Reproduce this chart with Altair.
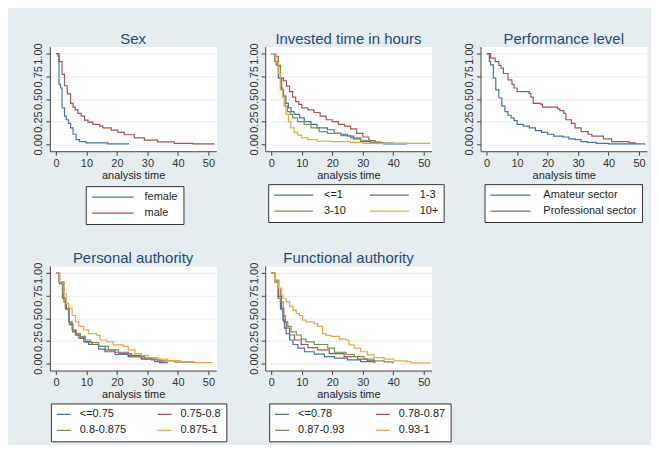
import altair as alt
import pandas as pd

# ---------------- data (Kaplan-Meier survival estimates) ----------------
SEX_GROUPS = ["female", "male"]
SEX_FEMALE_T = [0, 1, 1.5, 2, 2.8, 3.4, 4.1, 4.8, 5.6, 6.6, 7.7, 9.9, 17, 24]
SEX_FEMALE_S = [1, 0.66, 0.62, 0.40, 0.31, 0.27, 0.23, 0.18, 0.11, 0.05, 0.03, 0.015, 0.005, 0.005]
SEX_MALE_T = [0, 0.7, 1, 2, 2.8, 3.7, 4.8, 5.6, 6.3, 7.2, 8.3, 9.4, 10.5, 12.1, 14.3, 15.4, 18.1,
              20.3, 22.4, 25.7, 29, 33.3, 38.8, 45, 52]
SEX_MALE_S = [1, 0.97, 0.91, 0.77, 0.645, 0.556, 0.45, 0.41, 0.38, 0.34, 0.31, 0.265, 0.245, 0.22,
              0.20, 0.18, 0.155, 0.13, 0.105, 0.07, 0.045, 0.026, 0.01, 0.004, 0.004]

INV_GROUPS = ["<=1", "1-3", "3-10", "10+"]
INV_LE1_T = [0, 1.2, 1.6, 2.3, 3.4, 4.0, 4.8, 5.6, 6.5, 7.5, 9.3, 10.8, 13, 15, 18.4, 20.6, 22.8,
             25, 27, 29.3, 32.6, 36.9, 44.5]
INV_LE1_S = [1, 0.91, 0.875, 0.73, 0.60, 0.53, 0.45, 0.40, 0.36, 0.33, 0.29, 0.25, 0.22, 0.18, 0.16,
             0.12, 0.11, 0.09, 0.06, 0.03, 0.015, 0.005, 0.005]
INV_1_3_T = [0, 1.2, 2.3, 3.0, 4.0, 5.0, 6.0, 7.0, 8.0, 9.0, 10.0, 12.0, 14.0, 16.0, 18.0, 20.0,
             22.0, 24.0, 26.0, 28.0, 30.0, 32.0, 34.0, 36.0, 40.0]
INV_1_3_S = [1, 0.97, 0.86, 0.73, 0.70, 0.64, 0.58, 0.52, 0.47, 0.44, 0.40, 0.38, 0.35, 0.31, 0.27,
             0.25, 0.22, 0.20, 0.17, 0.12, 0.08, 0.04, 0.025, 0.012, 0.005]
INV_3_10_T = [0, 1.2, 2.1, 3.0, 3.7, 4.5, 5.3, 6.2, 7.0, 8.6, 10.8, 13, 15.7, 18.4, 22.8, 26, 29.3,
              32.6, 35.8, 44.5]
INV_3_10_S = [1, 0.91, 0.87, 0.62, 0.53, 0.42, 0.36, 0.33, 0.29, 0.25, 0.22, 0.18, 0.14, 0.12, 0.095,
              0.07, 0.044, 0.022, 0.01, 0.005]
INV_10P_T = [0, 1.5, 2.3, 3.0, 3.7, 4.2, 4.8, 5.6, 6.4, 7.5, 8.6, 10, 12, 15, 19.5, 26, 30, 52]
INV_10P_S = [1, 0.90, 0.78, 0.60, 0.52, 0.42, 0.33, 0.25, 0.18, 0.13, 0.10, 0.07, 0.05, 0.035, 0.03,
             0.02, 0.01, 0.005]

PERF_GROUPS = ["Amateur sector", "Professional sector"]
PERF_AM_T = [0, 0.9, 1.3, 2.2, 3.0, 4.0, 5.0, 6.0, 7.0, 8.0, 9.0, 10.0, 12.0, 14.0, 16.0, 18.0, 20.0,
             22.0, 25.0, 27.0, 29.0, 31.0, 33.0, 36.0, 40.0, 52.0]
PERF_AM_S = [1, 0.91, 0.875, 0.73, 0.60, 0.51, 0.42, 0.36, 0.32, 0.29, 0.26, 0.22, 0.20, 0.18, 0.15,
             0.13, 0.11, 0.09, 0.08, 0.06, 0.05, 0.03, 0.02, 0.01, 0.005, 0.005]
PERF_PRO_T = [0, 1.3, 2.8, 4.0, 4.7, 5.5, 7.0, 8.3, 9.0, 10.0, 13.9, 14.5, 15.3, 17.8, 18.3, 23.3,
              24.0, 25.3, 26.0, 27.8, 29.0, 31.0, 33.3, 34.5, 38.3, 41.0, 46.7, 49.0]
PERF_PRO_S = [1, 0.95, 0.91, 0.87, 0.84, 0.78, 0.71, 0.66, 0.62, 0.58, 0.56, 0.52, 0.45, 0.44, 0.41,
              0.39, 0.37, 0.34, 0.27, 0.23, 0.18, 0.14, 0.11, 0.09, 0.06, 0.03, 0.015, 0.015]

PA_GROUPS = ["<=0.75", "0.75-0.8", "0.8-0.875", "0.875-1"]
PA_1_T = [0, 1.2, 2.3, 3.1, 4.2, 5.3, 6.4, 7.5, 9.1, 10.7, 14, 16.1, 19.4, 23.7, 28, 32.4, 34, 36.7]
PA_1_S = [1, 0.88, 0.72, 0.60, 0.46, 0.37, 0.315, 0.28, 0.24, 0.21, 0.16, 0.13, 0.10, 0.077, 0.05,
          0.022, 0.011, 0.011]
PA_2_T = [0, 1.0, 2.6, 3.4, 4.4, 5.5, 6.6, 8.0, 9.6, 11.8, 14, 16.1, 19.4, 23.7, 28, 31.3, 34.5, 35.6]
PA_2_S = [1, 0.90, 0.68, 0.61, 0.43, 0.35, 0.315, 0.28, 0.24, 0.21, 0.19, 0.15, 0.125, 0.09, 0.06,
          0.04, 0.015, 0.015]
PA_3_T = [0, 1.0, 2.1, 3.1, 4.4, 5.5, 6.6, 8.0, 9.6, 11.3, 14, 17.2, 20.5, 24.8, 29.1, 33.4, 38.9, 45.3]
PA_3_S = [1, 0.90, 0.72, 0.61, 0.445, 0.37, 0.33, 0.30, 0.26, 0.23, 0.19, 0.15, 0.11, 0.077, 0.05,
          0.03, 0.015, 0.015]
PA_4_T = [0, 1.2, 2.6, 3.4, 4.2, 5.3, 6.4, 7.5, 9.1, 10.7, 13.4, 14.5, 16.7, 18.8, 22, 23.7, 25.9,
          28, 30.2, 33.4, 36.7, 41, 45.3, 51.3]
PA_4_S = [1, 0.90, 0.77, 0.66, 0.61, 0.53, 0.46, 0.41, 0.37, 0.33, 0.31, 0.26, 0.24, 0.205, 0.19,
          0.15, 0.11, 0.09, 0.066, 0.05, 0.033, 0.022, 0.011, 0.011]

FA_GROUPS = ["<=0.78", "0.78-0.87", "0.87-0.93", "0.93-1"]
FA_1_T = [0, 1.1, 2.2, 3.0, 3.8, 4.3, 4.9, 6.0, 7.1, 8.7, 10.9, 14.1, 17.4, 20.7, 25, 29.3, 33.7]
FA_1_S = [1, 0.90, 0.72, 0.60, 0.48, 0.39, 0.33, 0.26, 0.21, 0.17, 0.13, 0.105, 0.077, 0.059, 0.04,
          0.022, 0.01]
FA_2_T = [0, 1.1, 2.4, 3.3, 4.1, 4.9, 6.0, 7.6, 9.8, 12, 15.2, 19, 23.9, 28.3, 31.5, 33.7, 34.2]
FA_2_S = [1, 0.90, 0.74, 0.61, 0.46, 0.39, 0.315, 0.26, 0.21, 0.176, 0.15, 0.11, 0.077, 0.05, 0.03,
          0.015, 0.015]
FA_3_T = [0, 1.1, 2.4, 3.0, 3.9, 4.6, 5.4, 6.5, 8.2, 9.8, 11.4, 14.1, 18.5, 20.7, 24.5, 27.2, 30.4,
          33.7, 37, 39.7, 40.2]
FA_3_S = [1, 0.92, 0.83, 0.68, 0.53, 0.46, 0.41, 0.35, 0.315, 0.27, 0.24, 0.21, 0.17, 0.125, 0.10,
          0.077, 0.05, 0.03, 0.018, 0.01, 0.01]
FA_4_T = [0, 1.1, 2.4, 3.3, 3.8, 4.9, 6.0, 7.1, 8.2, 9.2, 10.3, 11.4, 14.1, 15.2, 16.8, 17.9, 19.6,
          22.3, 24.5, 25.5, 27.2, 29.3, 31.5, 33.7, 37, 40.2, 44.6, 45.7, 52.2]
FA_4_S = [1, 0.90, 0.83, 0.755, 0.72, 0.68, 0.63, 0.59, 0.55, 0.53, 0.48, 0.46, 0.44, 0.41, 0.33,
          0.31, 0.30, 0.27, 0.26, 0.205, 0.17, 0.13, 0.095, 0.066, 0.048, 0.03, 0.022, 0.007, 0.007]

X_TICKS = [0, 10, 20, 30, 40, 50]
Y_TICKS = [0, 0.25, 0.5, 0.75, 1]

# ---------------- styling ----------------
BLUE, RED, GREEN, ORANGE = "#4672a8", "#ab5058", "#719355", "#efa446"
BG = "#e5edf1"
TITLE_COLOR = "#264a78"
FONT = "Liberation Sans"
PW, PH = 167, 105


def make_df(groups, times, survs):
    rows = []
    for g, ts, ss in zip(groups, times, survs):
        for t, s in zip(ts, ss):
            rows.append({"t": t, "s": s, "g": g})
    return pd.DataFrame(rows)


def panel(title, groups, times, survs, colors, lx, ly, cols, sym, loff, colpad):
    df = make_df(groups, times, survs)
    x = alt.X("t:Q",
              scale=alt.Scale(domain=[-2, 52.6], nice=False, zero=False),
              axis=alt.Axis(values=X_TICKS, title="analysis time", grid=False,
                            labelFlush=False, labelOverlap=False))
    y = alt.Y("s:Q",
              scale=alt.Scale(domain=[-0.077, 1.077], nice=False, zero=False),
              axis=alt.Axis(values=Y_TICKS, format=".2f", title=None, grid=True,
                            labelAngle=270, labelAlign="center", labelBaseline="bottom",
                            labelFlush=False, labelOverlap=False))
    color = alt.Color("g:N",
                      scale=alt.Scale(domain=groups, range=colors),
                      legend=alt.Legend(title=None, orient="none", legendX=lx, legendY=ly,
                                        direction="horizontal", columns=cols,
                                        symbolType="stroke", symbolSize=sym,
                                        symbolStrokeWidth=1.3, labelFontSize=11,
                                        labelFont=FONT, labelColor="#222",
                                        labelOffset=loff, clipHeight=12, rowPadding=4,
                                        columnPadding=colpad, padding=5,
                                        fillColor="white", strokeColor="#333"))
    return (alt.Chart(df)
            .mark_line(interpolate="step-after", strokeWidth=1.2, clip=True)
            .encode(x=x, y=y, color=color)
            .properties(width=PW, height=PH,
                        title=alt.Title(title, fontSize=15, font=FONT, fontWeight="normal",
                                        color=TITLE_COLOR, anchor="middle", frame="group",
                                        offset=-4)))


p1 = panel("Sex", SEX_GROUPS, [SEX_FEMALE_T, SEX_MALE_T], [SEX_FEMALE_S, SEX_MALE_S],
           [BLUE, RED], 36, 140, 1, 1764, 10, 10)
p2 = panel("Invested time in hours", INV_GROUPS,
           [INV_LE1_T, INV_1_3_T, INV_3_10_T, INV_10P_T],
           [INV_LE1_S, INV_1_3_S, INV_3_10_S, INV_10P_S],
           [BLUE, RED, GREEN, ORANGE], 3, 138, 2, 1521, 10, 22)
p3 = panel("Performance level", PERF_GROUPS, [PERF_AM_T, PERF_PRO_T], [PERF_AM_S, PERF_PRO_S],
           [BLUE, RED], 4, 138, 1, 1600, 12, 10)
p4 = panel("Personal authority", PA_GROUPS, [PA_1_T, PA_2_T, PA_3_T, PA_4_T],
           [PA_1_S, PA_2_S, PA_3_S, PA_4_S],
           [BLUE, RED, GREEN, ORANGE], 1, 138, 2, 196, 8, 30)
p5 = panel("Functional authority", FA_GROUPS, [FA_1_T, FA_2_T, FA_3_T, FA_4_T],
           [FA_1_S, FA_2_S, FA_3_S, FA_4_S],
           [BLUE, RED, GREEN, ORANGE], 4, 138, 2, 196, 8, 30)

chart = (alt.concat(p1, p2, p3, p4, p5, columns=3,
                    spacing={"row": 115, "column": 49}, bounds="flush")
         .resolve_scale(color="independent")
         .properties(background=BG, padding={"left": 24, "top": 22, "right": 3, "bottom": 2})
         .configure_view(stroke="transparent", fill="white")
         .configure_axis(domainColor="#444", tickColor="#444", labelColor="#333",
                         labelFont=FONT, titleFont=FONT, labelFontSize=11, titleFontSize=11,
                         titleFontWeight="normal", titleColor="#222", tickSize=4,
                         labelPadding=2, titlePadding=1, gridColor="#e6edf2",
                         gridWidth=1, domainWidth=1))

chart.save("out.html", embed_options={"renderer": "svg", "actions": False})
